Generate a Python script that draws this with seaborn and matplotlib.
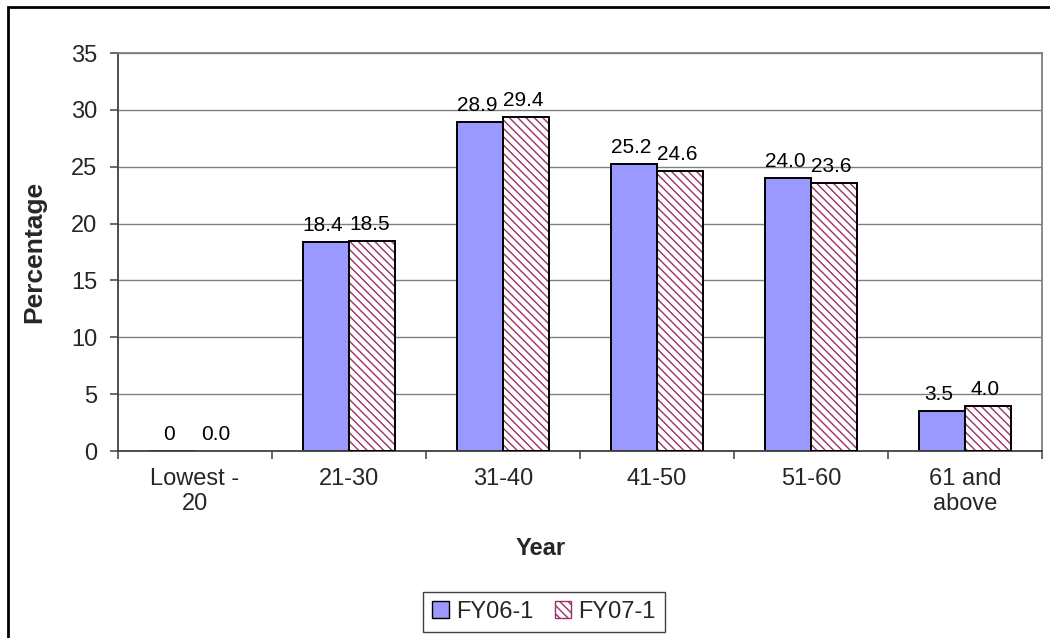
import matplotlib
matplotlib.use("Agg")
import matplotlib.pyplot as plt
from matplotlib.patches import Patch, Rectangle
import numpy as np
import pandas as pd
import seaborn as sns

# Age bands and share of records (percent) in each fiscal year
age_groups = ["Lowest -\n20", "21-30", "31-40", "41-50", "51-60", "61 and\nabove"]
fy06 = [0.0, 18.4, 28.9, 25.2, 24.0, 3.5]
fy07 = [0.0, 18.5, 29.4, 24.6, 23.6, 4.0]
series_names = ["FY06-1", "FY07-1"]

BLUE = "#9999FF"
PLUM = "#993366"

sns.set_theme(style="white")
plt.rcParams["font.family"] = ["Liberation Sans", "DejaVu Sans"]
plt.rcParams["hatch.linewidth"] = 1.0

df = pd.DataFrame({
    "group": age_groups * 2,
    "value": fy06 + fy07,
    "series": [series_names[0]] * len(age_groups) + [series_names[1]] * len(age_groups),
})

fig = plt.figure(figsize=(10.5, 6.38), dpi=100)
ax = fig.add_axes([118 / 1050, 1 - 451 / 638, 924 / 1050, 398 / 638])

sns.barplot(data=df, x="group", y="value", hue="series", order=age_groups,
            hue_order=series_names, palette=[BLUE, "white"], width=0.6,
            edgecolor="black", linewidth=1.4, saturation=1, legend=False, ax=ax)

n = len(age_groups)
bars06 = ax.patches[:n]
bars07 = ax.patches[n:2 * n]

# Hatched second series: plum diagonal stripes with a black outline on top
for b in bars07:
    b.set_edgecolor(PLUM)
    b.set_hatch("\\\\\\\\")
    b.set_linewidth(0)
    if b.get_height() > 0:
        ax.add_patch(Rectangle(b.get_xy(), b.get_width(), b.get_height(),
                               fill=False, edgecolor="black", linewidth=1.4, zorder=3))

# Value labels above each bar
def label_text(v, first_series):
    if first_series and v == 0:
        return "0"
    return f"{v:.1f}"

for bars, vals, first in ((bars06, fy06, True), (bars07, fy07, False)):
    for b, v in zip(bars, vals):
        ax.annotate(label_text(v, first), (b.get_x() + b.get_width() / 2, v),
                    xytext=(-2, 5), textcoords="offset points",
                    ha="center", va="bottom", fontsize=15, color="black")

ax.set_ylim(0, 35)
ax.set_yticks(np.arange(0, 36, 5))
ax.set_xlim(-0.5, n - 0.5)
ax.yaxis.grid(True, color="#808080", linewidth=1.0)
ax.set_axisbelow(True)

for side in ("top", "right"):
    ax.spines[side].set_color("#808080")
    ax.spines[side].set_linewidth(1.3)
for side in ("left", "bottom"):
    ax.spines[side].set_color("#404040")
    ax.spines[side].set_linewidth(1.3)

ax.tick_params(axis="y", which="major", left=True, length=6, width=1.1,
               color="#404040", pad=9, labelsize=17)
ax.tick_params(axis="x", which="major", bottom=False, length=0, pad=12, labelsize=17)
ax.set_xticks(np.arange(n))
ax.set_xticklabels(age_groups, linespacing=1.2)
ax.set_xticks(np.arange(-0.5, n, 1.0), minor=True)
ax.tick_params(axis="x", which="minor", bottom=True, length=6, width=1.1, color="#404040")

ax.set_xlabel("Year", fontsize=17, fontweight="bold")
ax.xaxis.set_label_coords((541 - 118) / 924, (451 - 537) / 398)
ax.set_ylabel("Percentage", fontsize=19, fontweight="bold")
ax.yaxis.set_label_coords((46 - 118) / 924, 0.5)

handles = [
    Patch(facecolor=BLUE, edgecolor="black", linewidth=1.0, label=series_names[0]),
    Patch(facecolor="white", edgecolor=PLUM, hatch="\\\\\\\\", linewidth=1.0, label=series_names[1]),
]
fig.legend(handles=handles, loc="center", bbox_to_anchor=(544 / 1050, 1 - 612 / 638),
           ncol=2, fontsize=17, frameon=True, fancybox=False, edgecolor="#404040",
           handlelength=0.7, handleheight=0.7, handletextpad=0.3, columnspacing=0.9,
           borderpad=0.4, borderaxespad=0, framealpha=1)

# Outer chart border (only its top and left edges fall inside the image)
fig.patches.append(Rectangle((8 / 1050, -0.2), 1.2, 1.2 - 7 / 638,
                             transform=fig.transFigure, fill=False,
                             edgecolor="black", linewidth=2.0, zorder=10))

fig.savefig("out.png", dpi=100, facecolor="white")
